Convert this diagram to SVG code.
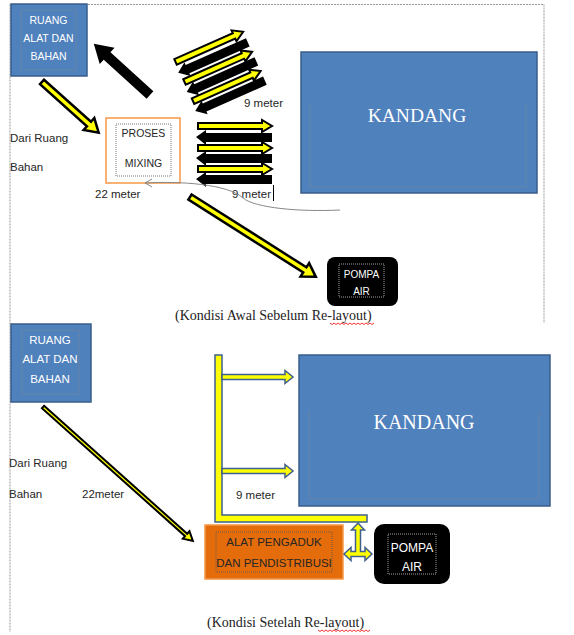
<svg xmlns="http://www.w3.org/2000/svg" xmlns:xlink="http://www.w3.org/1999/xlink" width="574" height="635" viewBox="0 0 574 635">
<style>
.page{fill:none;stroke:#999;stroke-width:1;stroke-dasharray:2,1}
.blue{fill:#4F81BD;stroke:#385D8A;stroke-width:1.5}
.dot{fill:none;stroke:#555;stroke-width:0.8;stroke-dasharray:1,1}
.dotg{fill:none;stroke:#7a8590;stroke-width:1;stroke-dasharray:1,1}
.dotw{fill:none;stroke:#ccc;stroke-width:0.8;stroke-dasharray:1,1}
.sans{font-family:"Liberation Sans",Arial,sans-serif}
.serif{font-family:"Liberation Serif","Times New Roman",serif}
.wt{fill:#fff}
.dk{fill:#262626}
.ya{fill:#FFFF00;stroke:#000;stroke-width:2.5;stroke-linejoin:miter}
.yb{fill:#FFFF00;stroke:#3F5F8F;stroke-width:1.5;stroke-linejoin:miter}
.blk{fill:#000}
.spell{fill:none;stroke:#E00;stroke-width:0.8}
</style>
<defs>
<g id="stack">
<polygon class="ya" style="stroke-width:2" points="198,123 262,123 262,120 272,126 262,132 262,129 198,129"/>
<polygon class="blk" points="196,137 206,130 206,133 272,133 272,142 206,142 206,145"/>
<polygon class="ya" style="stroke-width:2" points="198,145 262,145 262,142 272,148 262,154 262,151 198,151"/>
<polygon class="blk" points="196,158 206,151 206,154 272,154 272,163 206,163 206,166"/>
<polygon class="ya" style="stroke-width:2" points="198,166 262,166 262,163 272,169 262,175 262,172 198,172"/>
<polygon class="blk" points="196,179 206,172 206,175 272,175 272,184 206,184 206,187"/>
</g>
</defs>

<!-- page borders -->
<path class="page" d="M10,4.5 H544 V323 M10,4.5 V632"/>

<!-- Top panel -->
<g id="ruang1">
<rect class="blue" x="11" y="4" width="76" height="72"/>
<rect class="dotg" x="21" y="10" width="55" height="60"/>
<text class="sans wt" font-size="10.5" text-anchor="middle"><tspan x="48.5" y="24">RUANG</tspan><tspan x="48.5" y="42">ALAT DAN</tspan><tspan x="48.5" y="60">BAHAN</tspan></text>
</g>

<g id="proses">
<rect x="106" y="118" width="74" height="65" fill="#fff" stroke="#F79646" stroke-width="1.5"/>
<rect class="dot" x="116" y="124" width="55" height="52"/>
<text class="sans dk" font-size="10.5" text-anchor="middle"><tspan x="143.5" y="137">PROSES</tspan><tspan x="143.5" y="167">MIXING</tspan></text>
</g>

<g id="kandang1">
<rect class="blue" x="301" y="52" width="236" height="141"/>
<path class="dotg" d="M310,104 V187 H526 V104"/>
<text class="serif wt" font-size="19.5" text-anchor="middle" x="417" y="122">KANDANG</text>
</g>

<g id="pompa1">
<rect x="327" y="257" width="71" height="49" rx="8" fill="#000"/>
<rect class="dotw" x="339" y="264" width="45" height="33"/>
<text class="sans wt" font-size="10" text-anchor="middle"><tspan x="361.5" y="278">POMPA</tspan><tspan x="361.5" y="295">AIR</tspan></text>
</g>

<g id="labels1" class="sans dk" font-size="11.5">
<text x="10" y="142">Dari Ruang</text>
<text x="10" y="171">Bahan</text>
<text x="95" y="198">22 meter</text>
<text x="244" y="107">9 meter</text>
<text x="232" y="198">9 meter</text>
</g>
<line x1="273.5" y1="185" x2="273.5" y2="201" stroke="#000" stroke-width="1"/>

<!-- Bottom panel -->
<g id="ruang2">
<rect class="blue" x="11" y="324" width="80" height="78"/>
<rect class="dotg" x="22" y="330" width="57" height="64"/>
<text class="sans wt" font-size="11.5" text-anchor="middle"><tspan x="50" y="344">RUANG</tspan><tspan x="50" y="363">ALAT DAN</tspan><tspan x="50" y="383">BAHAN</tspan></text>
</g>

<g id="kandang2">
<rect class="blue" x="299" y="355" width="251" height="151"/>
<path class="dotg" d="M309,411 V499 H539 V411"/>
<text class="serif wt" font-size="20" text-anchor="middle" x="424" y="429">KANDANG</text>
</g>

<g id="alat">
<rect x="205" y="525" width="138" height="54" fill="#E46C0A" stroke="#F79646" stroke-width="1.5"/>
<rect class="dot" x="216" y="532" width="116" height="40"/>
<text class="sans dk" font-size="11.5" text-anchor="middle"><tspan x="274" y="546">ALAT PENGADUK</tspan><tspan x="274" y="567">DAN PENDISTRIBUSI</tspan></text>
</g>

<g id="pompa2">
<rect x="374" y="524" width="76" height="60" rx="10" fill="#000"/>
<rect class="dotw" x="388" y="534" width="48" height="40"/>
<text class="sans wt" font-size="12" text-anchor="middle"><tspan x="412" y="552">POMPA</tspan><tspan x="412" y="571">AIR</tspan></text>
</g>

<g id="labels2" class="sans dk" font-size="11.5">
<text x="9" y="467">Dari Ruang</text>
<text x="9" y="498">Bahan</text>
<text x="82" y="498">22meter</text>
<text x="236" y="499">9 meter</text>
</g>

<!-- Captions -->
<g id="captions" class="serif" font-size="14" fill="#222">
<text x="175" y="320">(Kondisi Awal Sebelum Re-layout)</text>
<text x="207" y="627">(Kondisi Setelah Re-layout)</text>
</g>
<path class="spell" d="M330,323 l2,1.5 l2,-1.5 l2,1.5 l2,-1.5 l2,1.5 l2,-1.5 l2,1.5 l2,-1.5 l2,1.5 l2,-1.5 l2,1.5 l2,-1.5 l2,1.5 l2,-1.5 l2,1.5 l2,-1.5 l2,1.5 l2,-1.5 l2,1.5 l2,-1.5 l2,1.5 l2,-1.5"/>
<path class="spell" d="M318,630 l2,1.5 l2,-1.5 l2,1.5 l2,-1.5 l2,1.5 l2,-1.5 l2,1.5 l2,-1.5 l2,1.5 l2,-1.5 l2,1.5 l2,-1.5 l2,1.5 l2,-1.5 l2,1.5 l2,-1.5 l2,1.5 l2,-1.5 l2,1.5 l2,-1.5 l2,1.5 l2,-1.5 l2,1.5 l2,-1.5 l2,1.5 l2,-1.5"/>

<!-- Connectors -->
<g id="connectors">
<polygon class="blk" transform="translate(150,95) rotate(-137.7)" points="0,-5 58,-5 58,-11 76,0 58,11 58,5 0,5"/>
<polygon class="ya" transform="translate(42,82) rotate(41.8)" points="0,-3 63,-3 63,-8 76,0 63,8 63,3 0,3"/>
<polygon class="ya" transform="translate(190,197) rotate(32.4)" points="0,-3 136,-3 136,-8 149,0 136,8 136,3 0,3"/>
<use xlink:href="#stack" href="#stack"/>
<use xlink:href="#stack" href="#stack" transform="translate(219,71) rotate(-24) translate(-234,-152)"/>
<path d="M340,210 C 300,212 255,208 243,198 C 228,184 180,181 145,183" fill="none" stroke="#888" stroke-width="1"/>
<path d="M152,179 L145,183 L152,187" fill="none" stroke="#888" stroke-width="1"/>

<polygon class="ya" style="stroke-width:2" transform="translate(43,407) rotate(41.8)" points="0,-1.6 192,-1.6 192,-5 201,0 192,5 192,1.6 0,1.6"/>
<path class="yb" d="M215,355 H222 V515 H367 V522 H215 Z"/>
<polygon class="yb" points="222,374.5 285,374.5 285,370.5 293,377 285,383.5 285,379.5 222,379.5"/>
<polygon class="yb" points="222,468.5 285,468.5 285,464.5 293,471 285,477.5 285,473.5 222,473.5"/>
<polygon class="yb" points="358,523 364.5,530 360.5,530 360.5,551.5 365,551.5 365,547.5 372,554 365,560.5 365,556.5 351,556.5 351,560.5 344,554 351,547.5 351,551.5 355.5,551.5 355.5,530 351.5,530"/>
</g>
</svg>
